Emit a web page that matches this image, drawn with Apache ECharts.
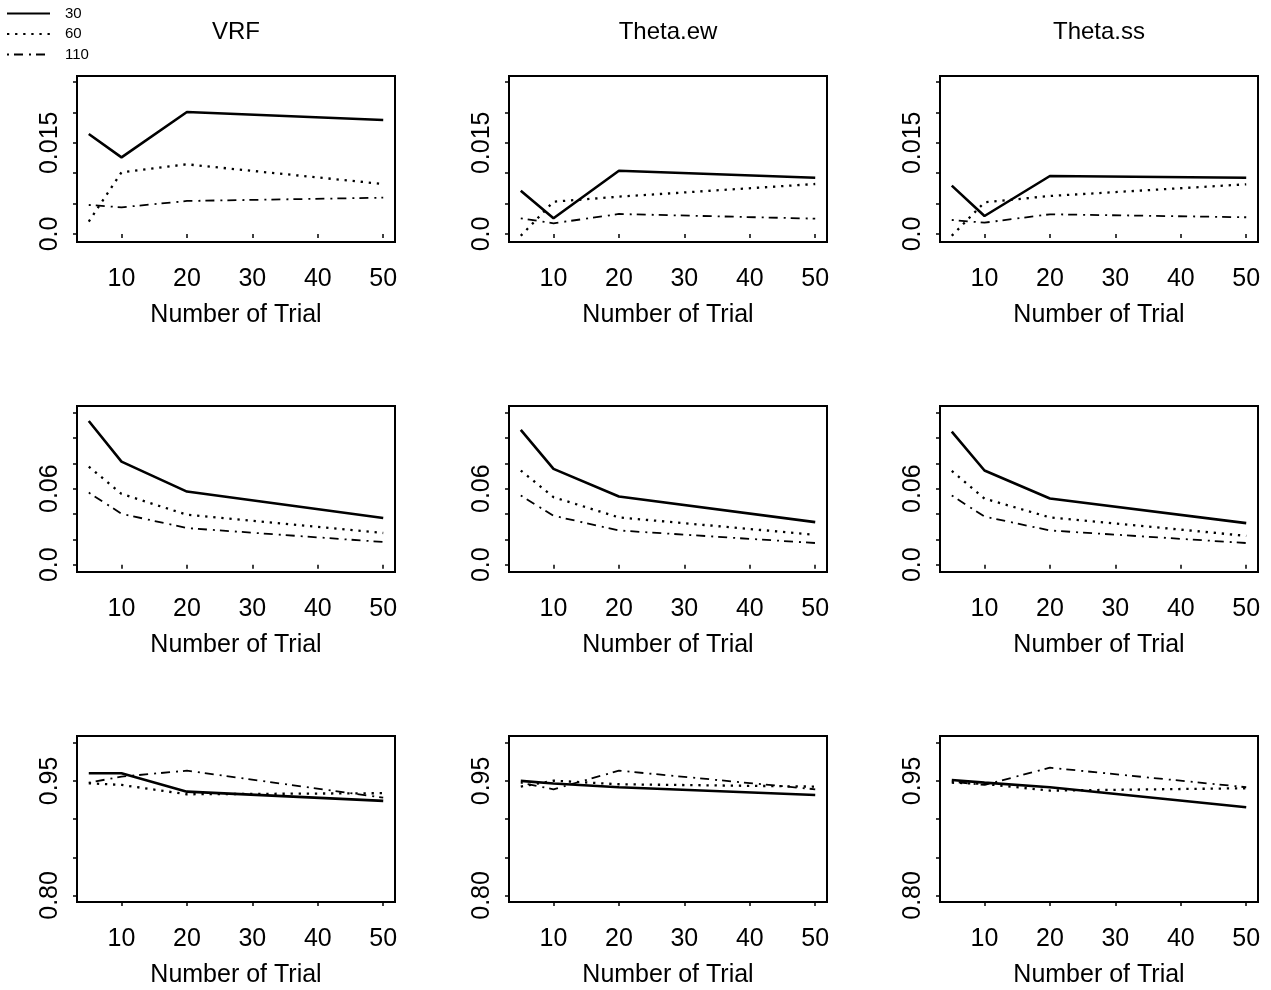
<!DOCTYPE html>
<html>
<head>
<meta charset="utf-8">
<script src="https://cdn.jsdelivr.net/npm/echarts@6/dist/echarts.min.js"></script>
<style>
  html, body { margin: 0; padding: 0; background: #fff; }
  #main { width: 1271px; height: 990px; }
</style>
</head>
<body>
<div id="main"></div>
<script>
// x values (number of trials)
const trials = [5, 10, 20, 50];
const seriesNames = ['30', '60', '110'];
const columnTitles = ['VRF', 'Theta.ew', 'Theta.ss'];
const xTicks = [10, 20, 30, 40, 50];

// row 1
const r1Vrf30 = [0.01645, 0.01261, 0.02007, 0.01875];
const r1Vrf60 = [0.00203, 0.01014, 0.01146, 0.00822];
const r1Vrf110 = [0.00477, 0.00439, 0.00543, 0.00597];
const r1Ew30 = [0.00713, 0.00258, 0.01041, 0.00926];
const r1Ew60 = [-0.0003, 0.00531, 0.00614, 0.00822];
const r1Ew110 = [0.00258, 0.00176, 0.00329, 0.00252];
const r1Ss30 = [0.00795, 0.00296, 0.00954, 0.00926];
const r1Ss60 = [-0.0003, 0.00521, 0.00625, 0.00817];
const r1Ss110 = [0.0023, 0.00186, 0.00324, 0.00275];

// row 2
const r2Vrf30 = [0.1134, 0.0813, 0.0577, 0.0368];
const r2Vrf60 = [0.0774, 0.0559, 0.0394, 0.0250];
const r2Vrf110 = [0.0569, 0.0402, 0.0289, 0.0179];
const r2Ew30 = [0.1063, 0.0756, 0.0538, 0.0336];
const r2Ew60 = [0.0743, 0.0533, 0.0373, 0.0236];
const r2Ew110 = [0.0546, 0.0386, 0.0270, 0.0171];
const r2Ss30 = [0.1050, 0.0743, 0.0522, 0.0328];
const r2Ss60 = [0.0740, 0.0522, 0.0373, 0.0228];
const r2Ss110 = [0.0546, 0.0380, 0.0270, 0.0171];

// row 3
const r3Vrf30 = [0.960, 0.960, 0.9359, 0.9238];
const r3Vrf60 = [0.9469, 0.9447, 0.9325, 0.9339];
const r3Vrf110 = [0.9477, 0.9556, 0.9634, 0.9281];
const r3Ew30 = [0.950, 0.9465, 0.9417, 0.9316];
const r3Ew60 = [0.9425, 0.9503, 0.9456, 0.9425];
const r3Ew110 = [0.9477, 0.939, 0.9634, 0.939];
const r3Ss30 = [0.9512, 0.9477, 0.9417, 0.9155];
const r3Ss60 = [0.9477, 0.946, 0.9373, 0.9404];
const r3Ss110 = [0.949, 0.9447, 0.9673, 0.9417];

// y axis ticks / labels per row
const r1Ticks = [0, 0.005, 0.01, 0.015, 0.02, 0.025];
const r1Labels = [0, 0.015];
const r1LabelText = ['0.0', '0.015'];
const r2Ticks = [0, 0.02, 0.04, 0.06, 0.08, 0.10, 0.12];
const r2Labels = [0, 0.06];
const r2LabelText = ['0.0', '0.06'];
const r3Ticks = [0.80, 0.85, 0.90, 0.95, 1.00];
const r3Labels = [0.80, 0.95];
const r3LabelText = ['0.80', '0.95'];

const panels = [
  [[r1Vrf30, r1Vrf60, r1Vrf110], [r1Ew30, r1Ew60, r1Ew110], [r1Ss30, r1Ss60, r1Ss110]],
  [[r2Vrf30, r2Vrf60, r2Vrf110], [r2Ew30, r2Ew60, r2Ew110], [r2Ss30, r2Ss60, r2Ss110]],
  [[r3Vrf30, r3Vrf60, r3Vrf110], [r3Ew30, r3Ew60, r3Ew110], [r3Ss30, r3Ss60, r3Ss110]]
];
const rowAxes = [
  { min: -0.00132, max: 0.02599, ticks: r1Ticks, labels: r1Labels, text: r1LabelText },
  { min: -0.00575, max: 0.1252, ticks: r2Ticks, labels: r2Labels, text: r2LabelText },
  { min: 0.7914, max: 1.0088, ticks: r3Ticks, labels: r3Labels, text: r3LabelText }
];

const FONT = '"Liberation Sans", Arial, sans-serif';
const colLeft = [77, 509, 940];
const rowTop = [76, 406, 736];
const boxW = 318, boxH = 166;

const lineStyles = [
  { color: '#000', width: 2.6, type: 'solid' },
  { color: '#000', width: 2.3, type: [2.3, 5.8] },
  { color: '#000', width: 1.8, type: [2, 5, 9, 6] }
];

const grid = [], xAxis = [], yAxis = [], series = [];
let idx = 0;
for (let r = 0; r < 3; r++) {
  for (let c = 0; c < 3; c++) {
    grid.push({
      left: colLeft[c], top: rowTop[r], width: boxW, height: boxH,
      show: true, borderColor: '#000', borderWidth: 2, backgroundColor: 'transparent'
    });
    xAxis.push({
      type: 'value', gridIndex: idx, min: 3.2, max: 51.8,
      name: 'Number of Trial', nameLocation: 'middle', nameGap: 61,
      nameTextStyle: { color: '#000', fontSize: 25, fontFamily: FONT },
      axisLine: { show: false },
      splitLine: { show: false },
      axisTick: { show: true, length: 4, lineStyle: { color: '#000', width: 1.5 }, customValues: xTicks },
      axisLabel: { color: '#000', fontSize: 25, fontFamily: FONT, margin: 25, customValues: xTicks }
    });
    const ax = rowAxes[r];
    yAxis.push({
      type: 'value', gridIndex: idx, min: ax.min, max: ax.max,
      axisLine: { show: false },
      splitLine: { show: false },
      axisTick: { show: true, length: 4, lineStyle: { color: '#000', width: 1.5 }, customValues: ax.ticks },
      axisLabel: {
        color: '#000', fontSize: 25, fontFamily: FONT, rotate: 90, margin: 14,
        customValues: ax.labels,
        formatter: function (v) {
          let best = 0;
          for (let i = 0; i < ax.labels.length; i++) {
            if (Math.abs(ax.labels[i] - v) < Math.abs(ax.labels[best] - v)) best = i;
          }
          return ax.text[best];
        }
      }
    });
    panels[r][c].forEach(function (vals, s) {
      series.push({
        name: seriesNames[s], type: 'line', xAxisIndex: idx, yAxisIndex: idx,
        data: trials.map(function (t, i) { return [t, vals[i]]; }),
        symbol: 'none', showSymbol: false, color: '#000',
        itemStyle: { color: '#000' },
        lineStyle: lineStyles[s], silent: true, z: 3 - s
      });
    });
    idx++;
  }
}

const titleGraphics = columnTitles.map(function (t, c) {
  return {
    type: 'text', x: colLeft[c] + boxW / 2, y: 32,
    style: { text: t, fill: '#000', font: '24px ' + FONT, textAlign: 'center', textVerticalAlign: 'middle' }
  };
});

const chart = echarts.init(document.getElementById('main'));
chart.setOption({
  animation: false,
  backgroundColor: '#fff',
  legend: {
    data: seriesNames, orient: 'vertical', left: 1, top: 1,
    itemWidth: 43, itemHeight: 14, itemGap: 5.5,
    itemStyle: { opacity: 0 },
    textStyle: { color: '#000', fontSize: 15, fontFamily: FONT, padding: [0, 0, 0, 10] }
  },
  graphic: titleGraphics,
  grid: grid,
  xAxis: xAxis,
  yAxis: yAxis,
  series: series
});
</script>
</body>
</html>
